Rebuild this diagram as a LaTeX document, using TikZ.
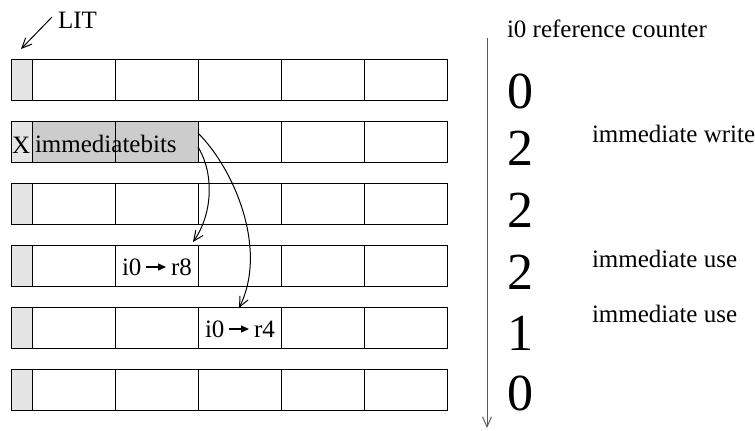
\documentclass[tikz,border=0pt]{standalone}
\usepackage{fontspec}
\setmainfont{Liberation Serif}
\usetikzlibrary{arrows.meta,calc}
\begin{document}
\begin{tikzpicture}[x=0.5pt,y=-0.5pt,
  cellbox/.style={draw,line width=0.5pt,minimum width=41.5pt,minimum height=20.5pt,inner sep=0pt,outer sep=0pt,anchor=north west},
  litbox/.style={cellbox,minimum width=10.5pt,fill=gray!20},
  txt/.style={inner sep=0pt,outer sep=0pt,anchor=base west,font=\fontsize{12.5}{15}\selectfont},
  dig/.style={inner sep=0pt,outer sep=0pt,anchor=base west,font=\fontsize{26}{30}\selectfont},
  barb/.style={-{Straight Barb[length=5pt,width=4.5pt]},line width=0.5pt},
  tri/.style={-{Triangle[length=4pt,width=3.5pt]},line width=0.6pt}]
\useasboundingbox (0,0) rectangle (755,430);
\foreach \r in {1,...,6} {
  \pgfmathsetmacro\yy{59+62*(\r-1)}
  \node[litbox] (r\r-0) at (11,\yy) {};
  \foreach \c in {1,...,5} {
    \pgfmathsetmacro\xx{32+83*(\c-1)}
    \ifnum\r=2 \ifnum\c<3 \def\fc{gray!40}\else\def\fc{white}\fi\else\def\fc{white}\fi
    \node[cellbox,fill=\fc] (r\r-\c) at (\xx,\yy) {};
  }
}
% texts in cells
\node[txt] (xlab) at (12,153) {X};
\node[txt] (imm) at (35,152) {immediatebits};
\node[txt] (ia) at (122,275) {i0};
\node[txt] (ra) at (171,275) {r8};
\draw[tri] ($(ia.base east)+(5,-8)$) -- ($(ra.base west)+(-5,-8)$);
\node[txt] (ib) at (205,337) {i0};
\node[txt] (rb) at (254,337) {r4};
\draw[tri] ($(ib.base east)+(5,-8)$) -- ($(rb.base west)+(-5,-8)$);
% LIT
\node[txt] (lit) at (58,28) {LIT};
\coordinate (lits) at (52,17);
\coordinate (lite) at (21,49);
\draw[barb] (lits) -- (lite);
% curved arrows
\coordinate (a1s) at (198,147);
\coordinate (a1e) at (193,242);
\coordinate (a2s) at (198,133);
\coordinate (a2e) at (239,308);
\draw[barb] (a1s) .. controls (215,175) and (212,215) .. (a1e);
\draw[barb] (a2s) .. controls (235,170) and (268,250) .. (a2e);
% counter axis
\coordinate (vt) at (487,38);
\coordinate (vb) at (487,428);
\draw[barb,draw=gray!70!black] (vt) -- (vb);
\node[txt] (title) at (507,37) {i0 reference counter};
\node[dig] (d1) at (507,108) {0};
\node[dig] (d2) at (507,165) {2};
\node[dig] (d3) at (507,227) {2};
\node[dig] (d4) at (507,289) {2};
\node[dig] (d5) at (507,350) {1};
\node[dig] (d6) at (507,410) {0};
\node[txt] (w1) at (592,142) {immediate write};
\node[txt] (u1) at (592,267) {immediate use};
\node[txt] (u2) at (592,322) {immediate use};
\end{tikzpicture}
\end{document}
